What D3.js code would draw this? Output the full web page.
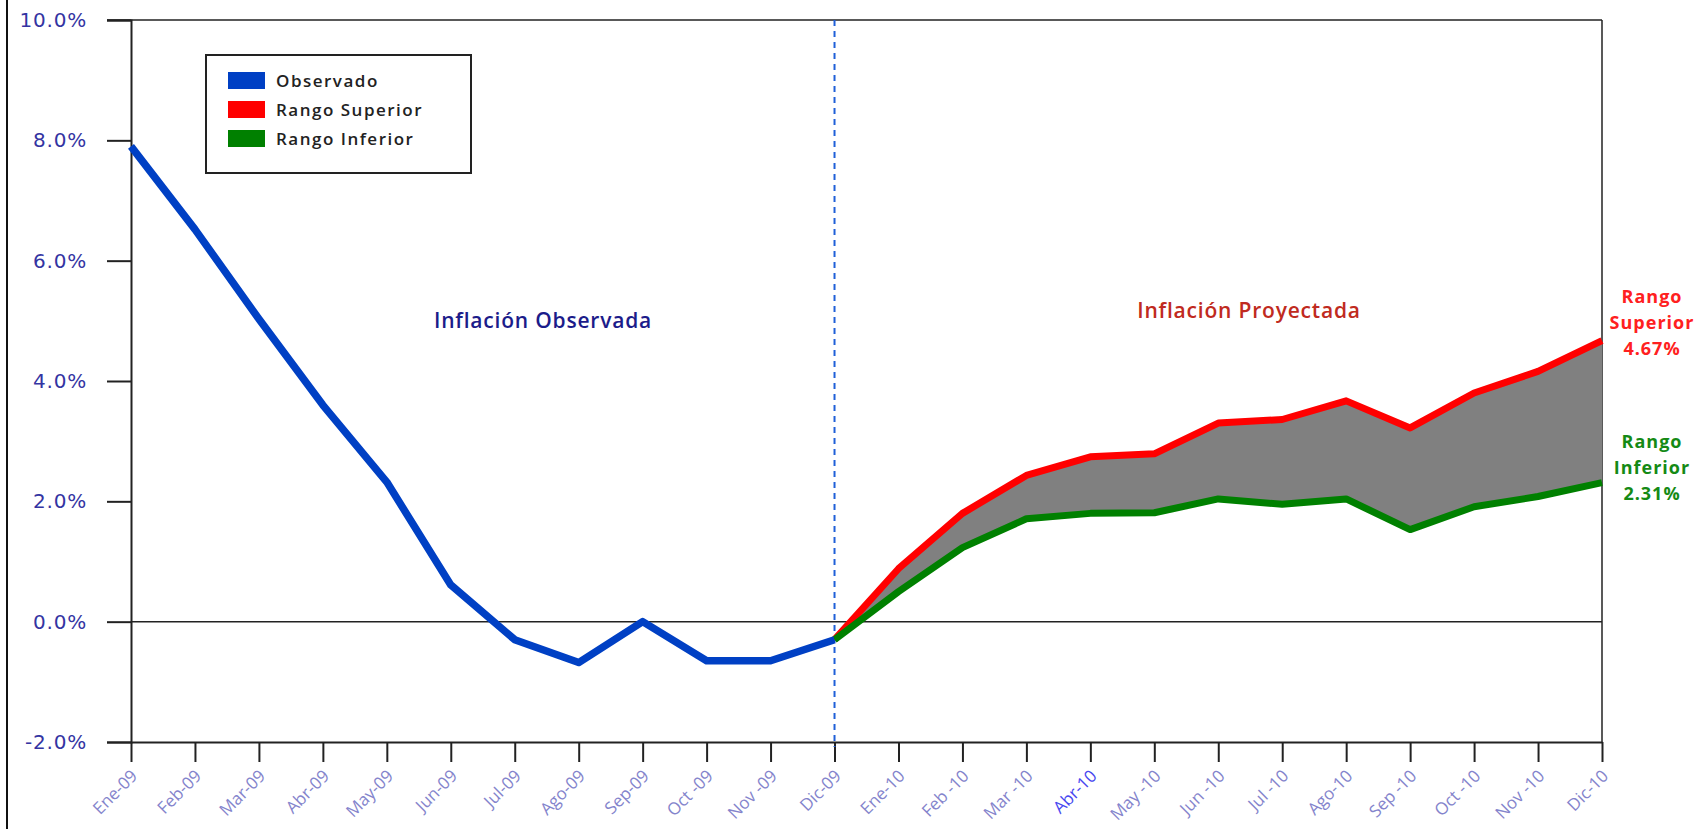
<!DOCTYPE html>
<html>
<head>
<meta charset="utf-8">
<script src="https://cdn.jsdelivr.net/npm/d3@7"></script>
<style>
  body { margin: 0; background: #fff; }
  svg { display: block; }
</style>
</head>
<body>
<script>
// data
const months = ["Ene-09", "Feb-09", "Mar-09", "Abr-09", "May-09", "Jun-09",
  "Jul-09", "Ago-09", "Sep-09", "Oct -09", "Nov -09", "Dic-09",
  "Ene-10", "Feb -10", "Mar -10", "Abr-10", "May -10", "Jun -10",
  "Jul -10", "Ago-10", "Sep -10", "Oct -10", "Nov -10", "Dic-10"];

const observado = [7.9, 6.52, 5.03, 3.6, 2.32, 0.61, -0.3, -0.68, 0.0, -0.65, -0.65, -0.3];

// projection starts at Dic-09
const projMonths = months.slice(11);
const rangoSuperior = [-0.3, 0.88, 1.8, 2.43, 2.74, 2.79, 3.3, 3.36, 3.67, 3.22, 3.8, 4.16, 4.67];
const rangoInferior = [-0.3, 0.5, 1.23, 1.71, 1.8, 1.81, 2.04, 1.95, 2.04, 1.53, 1.91, 2.08, 2.31];

const yTicks = [-2, 0, 2, 4, 6, 8, 10];

const width = 1700,
  height = 829;
const margin = { top: 20, right: 98, bottom: 87, left: 131 };

const svg = d3
  .select("body")
  .append("svg")
  .attr("width", width)
  .attr("height", height);

// scales
const xScale = d3
  .scalePoint()
  .domain(months)
  .range([margin.left, width - margin.right]);

const yScale = d3
  .scaleLinear()
  .domain([-2, 10])
  .range([height - margin.bottom, margin.top]);

const x0 = xScale(months[0]),
  x1 = xScale(months[months.length - 1]);

// outer frame line on the left
svg.append("line")
  .attr("x1", 7).attr("x2", 7)
  .attr("y1", 0).attr("y2", height)
  .attr("stroke", "#111").attr("stroke-width", 2);

// plot border (top and right)
svg.append("line")
  .attr("x1", x0 - 24).attr("x2", x1)
  .attr("y1", yScale(10)).attr("y2", yScale(10))
  .attr("stroke", "#222").attr("stroke-width", 1.5);
svg.append("line")
  .attr("x1", x1).attr("x2", x1)
  .attr("y1", yScale(10)).attr("y2", yScale(-2))
  .attr("stroke", "#222").attr("stroke-width", 1.5);

// zero line
svg.append("line")
  .attr("x1", x0).attr("x2", x1)
  .attr("y1", yScale(0)).attr("y2", yScale(0))
  .attr("stroke", "#222").attr("stroke-width", 1.5);

// y axis
const yAxis = d3.axisLeft(yScale)
  .tickValues(yTicks)
  .tickSize(24)
  .tickPadding(20)
  .tickFormat((d) => d.toFixed(1) + "%");

const gy = svg.append("g")
  .attr("transform", `translate(${x0},0)`)
  .call(yAxis);
gy.select(".domain").attr("stroke", "#222").attr("stroke-width", 2);
gy.selectAll(".tick line").attr("stroke", "#222").attr("stroke-width", 2);
gy.selectAll(".tick text")
  .attr("fill", "#3434a2")
  .attr("font-family", "DejaVu Sans")
  .attr("font-size", 20)
  .attr("letter-spacing", 0.8);

// x axis
const xAxis = d3.axisBottom(xScale).tickSize(20).tickSizeOuter(0);
const gx = svg.append("g")
  .attr("transform", `translate(0,${yScale(-2)})`)
  .call(xAxis);
gx.select(".domain").attr("stroke", "#222").attr("stroke-width", 2);
gx.selectAll(".tick line").attr("stroke", "#222").attr("stroke-width", 2);
gx.selectAll(".tick text")
  .attr("fill", (d) => (d === "Abr-10" ? "#4848f0" : "#8484cc"))
  .attr("font-family", "Open Sans")
  .attr("font-size", 17)
  .attr("text-anchor", "end")
  .attr("dy", 0)
  .attr("transform", "translate(7,35) rotate(-45)")
  .attr("y", 0);

// dashed separator at Dic-09
svg.append("line")
  .attr("x1", xScale("Dic-09")).attr("x2", xScale("Dic-09"))
  .attr("y1", yScale(10)).attr("y2", yScale(-2) + 5)
  .attr("stroke", "#2060d8")
  .attr("stroke-width", 2)
  .attr("stroke-dasharray", "6,5");

// projection band
const proj = projMonths.map((m, i) => ({
  m: m,
  hi: rangoSuperior[i],
  lo: rangoInferior[i],
}));

const area = d3.area()
  .x((d) => xScale(d.m))
  .y0((d) => yScale(d.lo))
  .y1((d) => yScale(d.hi));

svg.append("path")
  .datum(proj)
  .attr("d", area)
  .attr("fill", "#808080");

const line = d3.line()
  .x((d) => xScale(d[0]))
  .y((d) => yScale(d[1]));

svg.append("path")
  .datum(proj.map((d) => [d.m, d.hi]))
  .attr("d", line)
  .attr("fill", "none")
  .attr("stroke", "#ff0000")
  .attr("stroke-width", 7)
  .attr("stroke-linejoin", "round");

svg.append("path")
  .datum(proj.map((d) => [d.m, d.lo]))
  .attr("d", line)
  .attr("fill", "none")
  .attr("stroke", "#008000")
  .attr("stroke-width", 7)
  .attr("stroke-linejoin", "round");

svg.append("path")
  .datum(observado.map((v, i) => [months[i], v]))
  .attr("d", line)
  .attr("fill", "none")
  .attr("stroke", "#0040c4")
  .attr("stroke-width", 7.5)
  .attr("stroke-linejoin", "round");

// annotations
svg.append("text")
  .attr("x", 543).attr("y", 328)
  .attr("text-anchor", "middle")
  .attr("font-family", "Open Sans")
  .attr("font-weight", 600)
  .attr("font-size", 21)
  .attr("letter-spacing", 0.8)
  .attr("fill", "#1c1c8a")
  .text("Inflación Observada");

svg.append("text")
  .attr("x", 1249).attr("y", 318)
  .attr("text-anchor", "middle")
  .attr("font-family", "Open Sans")
  .attr("font-weight", 600)
  .attr("font-size", 21)
  .attr("letter-spacing", 0.8)
  .attr("fill", "#c02a20")
  .text("Inflación Proyectada");

const endLabels = [
  { lines: ["Rango", "Superior", rangoSuperior[rangoSuperior.length - 1].toFixed(2) + "%"], y: 303, color: "#ff2020" },
  { lines: ["Rango", "Inferior", rangoInferior[rangoInferior.length - 1].toFixed(2) + "%"], y: 448, color: "#158a15" },
];
endLabels.forEach((l) => {
  const t = svg.append("text")
    .attr("text-anchor", "middle")
    .attr("font-family", "Open Sans")
    .attr("font-weight", 700)
    .attr("font-size", 18)
    .attr("letter-spacing", 1)
    .attr("fill", l.color);
  l.lines.forEach((s, i) => {
    t.append("tspan")
      .attr("x", 1652)
      .attr("y", l.y + i * 26)
      .text(s);
  });
});

// legend
const legendItems = [
  { key: "Observado", color: "#0040c4" },
  { key: "Rango Superior", color: "#ff0000" },
  { key: "Rango Inferior", color: "#008000" },
];

const legend = svg.append("g").attr("transform", "translate(206,55)");
legend.append("rect")
  .attr("width", 265).attr("height", 118)
  .attr("fill", "#fff")
  .attr("stroke", "#222")
  .attr("stroke-width", 2);

const li = legend.selectAll(".item")
  .data(legendItems)
  .enter()
  .append("g")
  .attr("class", "item")
  .attr("transform", (d, i) => `translate(22,${26 + i * 29})`);

li.append("rect")
  .attr("y", -9)
  .attr("width", 37).attr("height", 17)
  .attr("fill", (d) => d.color);

li.append("text")
  .attr("x", 48)
  .attr("y", 6)
  .attr("font-family", "Open Sans")
  .attr("font-weight", 600)
  .attr("font-size", 17)
  .attr("letter-spacing", 1.5)
  .attr("fill", "#222")
  .text((d) => d.key);
</script>
</body>
</html>
